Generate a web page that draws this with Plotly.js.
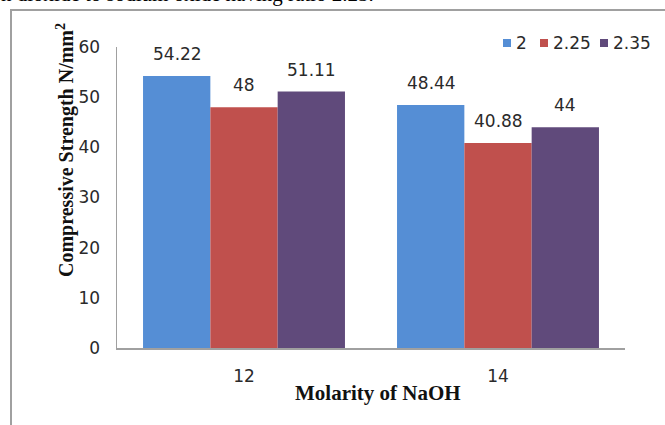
<!DOCTYPE html>
<html>
<head>
<meta charset="utf-8">
<script src="https://cdn.plot.ly/plotly-3.0.1.min.js"></script>
<style>html,body{margin:0;padding:0;background:#fff;}#chart{width:665px;height:425px;}</style>
</head>
<body>
<div id="chart"></div>
<script>
const categories = ["12", "14"];
const seriesNames = ["2", "2.25", "2.35"];
const series2 = [54.22, 48.44];
const series225 = [48, 40.88];
const series235 = [51.11, 44];
const yTicks = [0, 10, 20, 30, 40, 50, 60];

const colors = ["#558ED5", "#C0504D", "#604A7B"];
const allSeries = [series2, series225, series235];
const offsets = [-67, 0, 67];
const sansFont = "DejaVu Sans, Verdana, sans-serif";
const serifFont = "Liberation Serif, Times New Roman, serif";
const textColor = "#2a2a2a";

const traces = allSeries.map((vals, i) => ({
  type: "bar",
  name: seriesNames[i],
  x: categories,
  y: vals,
  marker: {color: colors[i]},
  showlegend: false,
  hoverinfo: "none"
}));

const labelAnns = [];
allSeries.forEach((vals, i) => {
  vals.forEach((v, j) => {
    labelAnns.push({
      x: j, y: v, xref: "x", yref: "y",
      text: String(v), showarrow: false,
      xshift: offsets[i], yshift: 22, yanchor: "middle",
      font: {family: sansFont, size: 17, color: textColor}
    });
  });
});

// custom legend (pixel-ish positions in paper coords)
const plotL = 117, plotW = 508, plotB = 348, plotH = 301;
const px = v => (v - plotL) / plotW;
const py = v => (plotB - v) / plotH;
const legSquareX = [503, 540, 600];
const legendShapes = seriesNames.map((n, i) => ({
  type: "rect", xref: "paper", yref: "paper",
  x0: px(legSquareX[i]), x1: px(legSquareX[i] + 8),
  y0: py(47), y1: py(39),
  fillcolor: colors[i], line: {width: 0}
}));
const legendAnns = seriesNames.map((n, i) => ({
  xref: "paper", yref: "paper", x: px(legSquareX[i] + 11), y: py(43),
  xanchor: "left", yanchor: "middle", text: n, showarrow: false,
  font: {family: sansFont, size: 17, color: textColor}
}));

const layout = {
  width: 665, height: 425,
  margin: {l: 117, r: 40, t: 47, b: 77, autoexpand: false},
  paper_bgcolor: "#fff", plot_bgcolor: "#fff",
  barmode: "group", bargap: 0.205, bargroupgap: 0,
  showlegend: false,
  xaxis: {
    type: "category", range: [-0.5, 1.5],
    showline: true, linecolor: "#a0a0a0", linewidth: 1.5,
    ticks: "", showgrid: false, zeroline: false, ticklabelstandoff: 12,
    tickfont: {family: sansFont, size: 17, color: textColor}
  },
  yaxis: {
    range: [0, 60], tickvals: yTicks, ticktext: yTicks.map(String),
    showline: true, linecolor: "#a0a0a0", linewidth: 1.5,
    ticks: "", showgrid: false, zeroline: false, ticklabelstandoff: 12,
    tickfont: {family: sansFont, size: 17, color: textColor}
  },
  shapes: [{
    type: "rect", xref: "paper", yref: "paper",
    x0: px(11), x1: px(700), y0: py(460), y1: py(10),
    line: {color: "#a0a0a0", width: 2}, fillcolor: "rgba(0,0,0,0)"
  }].concat(legendShapes),
  annotations: labelAnns.concat(legendAnns, [
    {
      xref: "paper", yref: "paper", x: px(-1), y: py(8), xanchor: "left", yanchor: "bottom",
      text: "n dioxide to sodium oxide having ratio 2.25.", showarrow: false,
      font: {family: serifFont, size: 21, color: "#000"}
    },
    {
      xref: "paper", yref: "paper", x: px(65), y: py(150), xanchor: "center", yanchor: "middle",
      text: "Compressive Strength N/mm<sup>2</sup>", textangle: -90, showarrow: false,
      font: {family: serifFont, size: 20, color: "#111", weight: "bold"}
    },
    {
      xref: "paper", yref: "paper", x: px(378), y: py(393), xanchor: "center", yanchor: "middle",
      text: "Molarity of NaOH", showarrow: false,
      font: {family: serifFont, size: 21, color: "#111", weight: "bold"}
    }
  ])
};

Plotly.newPlot("chart", traces, layout, {displayModeBar: false, staticPlot: true});
</script>
</body>
</html>
